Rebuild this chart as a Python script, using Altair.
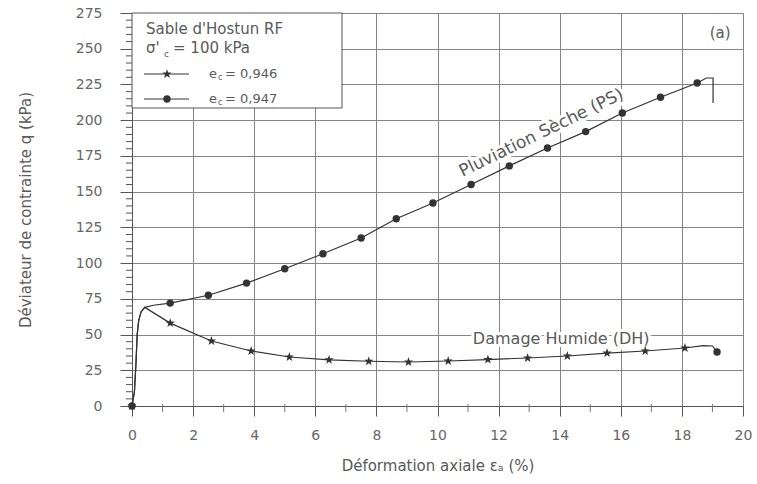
import altair as alt
import pandas as pd

# ---------------- data ----------------
# Pluviation Seche (PS), e_c = 0,947  (line points; marker flag where a symbol is drawn)
ps_x = [0, 0.08, 0.13, 0.17, 0.22, 0.30, 0.42, 0.70, 1.25, 2.5, 3.75, 5.0, 6.25, 7.5, 8.65,
        9.85, 11.1, 12.35, 13.6, 14.85, 16.05, 17.3, 18.5, 18.8, 19.02, 19.02]
ps_q = [0, 10, 30, 50, 60, 66, 69, 70.5, 72, 77.5, 86, 96, 106.5, 117.5, 131,
        142, 155, 168, 180.5, 192, 205, 216, 226, 229.5, 229.5, 212]
ps_mark = ["circle", "", "", "", "", "", "", "", "circle", "circle", "circle", "circle", "circle",
           "circle", "circle", "circle", "circle", "circle", "circle", "circle", "circle",
           "circle", "circle", "", "", ""]

# Damage Humide (DH), e_c = 0,946
dh_x = [0, 0.08, 0.13, 0.17, 0.22, 0.30, 0.42, 1.25, 2.6, 3.9, 5.15, 6.45, 7.75, 9.05,
        10.35, 11.65, 12.95, 14.25, 15.55, 16.8, 18.1, 18.7, 19.0, 19.15]
dh_q = [0, 10, 30, 50, 60, 66, 69, 58, 45.5, 38.5, 34.3, 32.3, 31.3, 30.8,
        31.5, 32.5, 33.6, 35, 37, 38.5, 40.6, 42.3, 42, 37.8]
dh_mark = ["star", "", "", "", "", "", "", "star", "star", "star", "star", "star", "star", "star",
           "star", "star", "star", "star", "star", "star", "star", "", "", "circle"]

x_ticks = [0, 2, 4, 6, 8, 10, 12, 14, 16, 18, 20]
y_ticks = [0, 25, 50, 75, 100, 125, 150, 175, 200, 225, 250, 275]
x_minor = [1, 3, 5, 7, 9, 11, 13, 15, 17, 19]
y_minor = [v for v in range(5, 275, 5) if v % 25]

rows = []
for i, (x, q, m) in enumerate(zip(ps_x, ps_q, ps_mark)):
    rows.append(dict(series="PS", idx=i, x=x, q=q, mark=m))
for i, (x, q, m) in enumerate(zip(dh_x, dh_q, dh_mark)):
    rows.append(dict(series="DH", idx=i, x=x, q=q, mark=m))
df = pd.DataFrame(rows)

# ---------------- styling ----------------
FONT = "DejaVu Sans"
W, H = 611, 393
INK = "#333333"
TXT = "#5a5a5a"
GRID = "#858585"
STAR = ("M0,-1L0.235,-0.324L0.951,-0.309L0.380,0.124L0.588,0.809L0,0.4"
        "L-0.588,0.809L-0.380,0.124L-0.951,-0.309L-0.235,-0.324Z")

xs = alt.Scale(domain=[0, 20], nice=False, zero=False)
ys = alt.Scale(domain=[0, 275], nice=False)

x_axis = alt.Axis(values=x_ticks, grid=True, gridColor=GRID, gridWidth=1,
                  tickSize=10, tickColor="#555", domainColor="#555", labelFlush=False,
                  labelFont=FONT, labelFontSize=14, labelColor="#666", labelPadding=12,
                  title="Déformation axiale εₐ (%)", titleFont=FONT, titleFontSize=15,
                  titleFontWeight="normal", titleColor=TXT,
                  titleX=W / 2, titleY=59, titleAlign="center", titleBaseline="middle")
y_axis = alt.Axis(values=y_ticks, grid=True, gridColor=GRID, gridWidth=1,
                  tickSize=12, tickColor="#555", domainColor="#555", labelFlush=False,
                  labelFont=FONT, labelFontSize=14, labelColor="#666", labelPadding=18,
                  title="Déviateur de contrainte q (kPa)", titleFont=FONT, titleFontSize=15,
                  titleFontWeight="normal", titleColor=TXT, titleAngle=270,
                  titleX=-107, titleY=H / 2, titleAlign="center", titleBaseline="middle")

one = pd.DataFrame({"a": [0]})

lines = alt.Chart(df).mark_line(color=INK, strokeWidth=1.2).encode(
    x=alt.X("x:Q", scale=xs, axis=x_axis),
    y=alt.Y("q:Q", scale=ys, axis=y_axis),
    detail="series:N",
    order="idx:Q",
)

points = alt.Chart(df).transform_filter("datum.mark != ''").mark_point(
    filled=True, color=INK, opacity=1).encode(
    x=alt.X("x:Q", scale=xs, axis=x_axis),
    y=alt.Y("q:Q", scale=ys, axis=y_axis),
    shape=alt.Shape("mark:N", scale=alt.Scale(domain=["star", "circle"], range=[STAR, "circle"]), legend=None),
    size=alt.Size("mark:N", scale=alt.Scale(domain=["star", "circle"], range=[95, 55]), legend=None),
)

minor_y = alt.Chart(pd.DataFrame({"q": y_minor})).mark_rule(color="#555").encode(
    y=alt.Y("q:Q", scale=ys, axis=y_axis), x=alt.value(-6), x2=alt.value(0))
minor_x = alt.Chart(pd.DataFrame({"x": x_minor})).mark_rule(color="#777").encode(
    x=alt.X("x:Q", scale=xs, axis=x_axis), y=alt.value(H - 2), y2=alt.value(H + 6))

# annotations (halo + text)
def label(text, xv, yv, size, angle=0, align="center"):
    kw = dict(text=text, font=FONT, fontSize=size, align=align, baseline="middle")
    if angle:
        kw["angle"] = angle
    enc = dict(x=alt.X(datum=xv, type="quantitative", scale=xs, axis=x_axis),
               y=alt.Y(datum=yv, type="quantitative", scale=ys, axis=y_axis))
    halo = alt.Chart(one).mark_text(color="white", stroke="white", strokeWidth=6, **kw).encode(**enc)
    txt = alt.Chart(one).mark_text(color=TXT, **kw).encode(**enc)
    return halo, txt

ps_h, ps_t = label("Pluviation  Sèche (PS)", 13.4, 191, 17, angle=334)
dh_h, dh_t = label("Damage Humide (DH)", 14.05, 47, 16)
a_h, a_t = label("(a)", 19.25, 261, 15)

# legend box
box = alt.Chart(one).mark_rect(fill="white", stroke="#555", strokeWidth=1).encode(
    x=alt.value(0), x2=alt.value(210), y=alt.value(0), y2=alt.value(95))

def vtext(text, x, y, size, align="left"):
    return alt.Chart(one).mark_text(text=text, font=FONT, fontSize=size, color=TXT,
                                    align=align, baseline="middle").encode(
        x=alt.value(x), y=alt.value(y))

leg_texts = [
    vtext("Sable d'Hostun RF", 14, 16, 15),
    vtext("σ'", 14, 35, 15),
    vtext("c", 32, 41, 9),
    vtext("= 100 kPa", 41, 35, 15),
    vtext("e", 77, 61, 13),
    vtext("c", 86, 65, 8),
    vtext("= 0,946", 93, 61, 13),
    vtext("e", 77, 86, 13),
    vtext("c", 86, 90, 8),
    vtext("= 0,947", 93, 86, 13),
]
leg_line1 = alt.Chart(one).mark_rule(color=INK, strokeWidth=1).encode(
    x=alt.value(12), x2=alt.value(57), y=alt.value(61))
leg_line2 = alt.Chart(one).mark_rule(color=INK, strokeWidth=1).encode(
    x=alt.value(12), x2=alt.value(57), y=alt.value(86))
leg_star = alt.Chart(one).mark_point(shape=STAR, filled=True, color=INK, opacity=1, size=95).encode(
    x=alt.value(35), y=alt.value(61))
leg_circ = alt.Chart(one).mark_point(shape="circle", filled=True, color=INK, opacity=1, size=55).encode(
    x=alt.value(35), y=alt.value(86))

chart = alt.layer(
    lines, ps_h, dh_h, a_h, points, minor_y, minor_x, ps_t, dh_t, a_t,
    box, leg_line1, leg_line2, leg_star, leg_circ, *leg_texts
).properties(
    width=W, height=H,
    autosize=alt.AutoSizeParams(type="none"),
    padding={"left": 132, "top": 13, "right": 14, "bottom": 78},
).configure_view(stroke="#555", strokeWidth=1).configure(background="white")

chart.save("out.html", embed_options={"renderer": "svg", "actions": False})
